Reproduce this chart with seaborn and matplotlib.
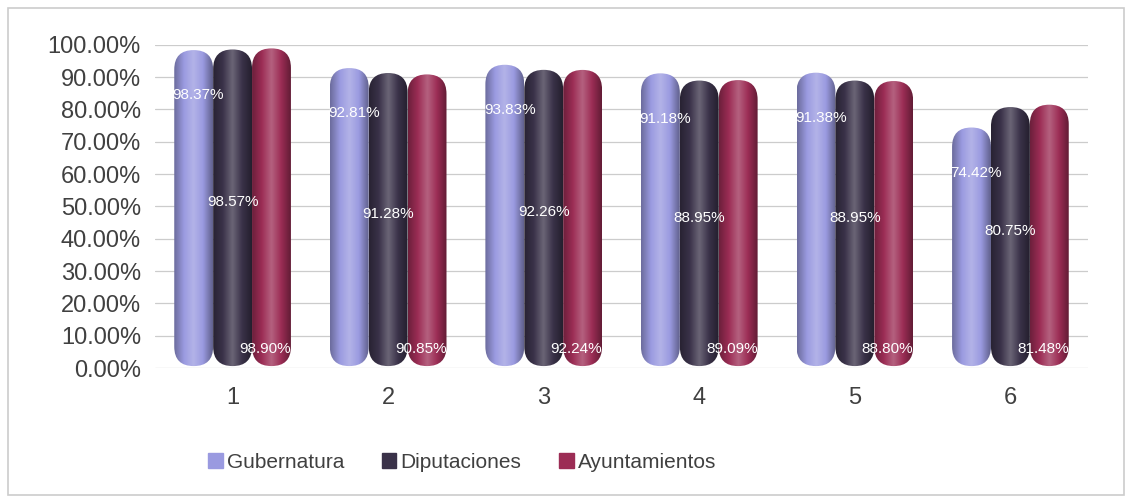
import numpy as np
import pandas as pd
import matplotlib
matplotlib.use('Agg')
import matplotlib.pyplot as plt
import seaborn as sns
from matplotlib.patches import Rectangle, FancyBboxPatch
from matplotlib.colors import LinearSegmentedColormap, to_rgb

sns.set_style('white')
plt.rcParams['font.family'] = ['Liberation Sans', 'DejaVu Sans']

# --- data ---
categories = ['1', '2', '3', '4', '5', '6']
series = ['Gubernatura', 'Diputaciones', 'Ayuntamientos']
gubernatura = [98.37, 92.81, 93.83, 91.18, 91.38, 74.42]
diputaciones = [98.57, 91.28, 92.26, 88.95, 88.95, 80.75]
ayuntamientos = [98.90, 90.85, 92.24, 89.09, 88.80, 81.48]

colors = ['#9a9ae0', '#3a3249', '#9c2d55']

df = pd.DataFrame({
    'cat': categories * 3,
    'serie': [s for s in series for _ in categories],
    'value': gubernatura + diputaciones + ayuntamientos,
})

fig = plt.figure(figsize=(11.3, 4.98), dpi=100)
ax = fig.add_axes([0.137, 0.261, 0.826, 0.649])

sns.barplot(data=df, x='cat', y='value', hue='serie', hue_order=series,
            palette=colors, width=0.75, saturation=1, linewidth=0,
            ax=ax, legend=False)

ax.set_ylim(0, 100)
ax.set_xlim(-0.5, 5.5)
ax.set_yticks(range(0, 101, 10))
ax.set_yticklabels([f'{t:.2f}%' for t in range(0, 101, 10)], fontsize=17, color='#404040')
ax.tick_params(axis='x', labelsize=17, labelcolor='#404040', pad=14, length=0)
ax.tick_params(axis='y', length=0, pad=10)
ax.set_xlabel('')
ax.set_ylabel('')
ax.grid(axis='y', color='#cccccc', lw=0.9)
ax.set_axisbelow(True)
for s in ax.spines.values():
    s.set_visible(False)


def shade_cmap(c):
    r = np.array(to_rgb(c))
    dark = r * 0.7
    light = np.clip(r + (1 - r) * 0.25, 0, 1)
    return LinearSegmentedColormap.from_list('cyl', [dark, r, light, r, dark * 0.9])


# turn the flat bars into shaded cylinders
fig.canvas.draw()
px_x = ax.transData.transform((1, 0))[0] - ax.transData.transform((0, 0))[0]
px_y = ax.transData.transform((0, 1))[1] - ax.transData.transform((0, 0))[1]
grad = np.linspace(0, 1, 64).reshape(1, -1)
for i, cont in enumerate(ax.containers):
    cmap = shade_cmap(colors[i])
    for bar in cont:
        x, w, h = bar.get_x(), bar.get_width(), bar.get_height()
        bar.set_visible(False)
        r = w / 2
        aspect = 1.0 * px_x / px_y
        cyl = FancyBboxPatch((x, 0.6), w, h - 0.6, boxstyle=f'round,pad=0,rounding_size={r}',
                             mutation_aspect=aspect, facecolor='none', edgecolor='none')
        ax.add_patch(cyl)
        im = ax.imshow(grad, cmap=cmap, extent=(x, x + w, 0, h), aspect='auto',
                       interpolation='bicubic', zorder=2)
        im.set_clip_path(cyl)
ax.set_xlim(-0.5, 5.5)
ax.set_ylim(0, 100)

# data labels: near the top, centre, near the base
for i, vals in enumerate([gubernatura, diputaciones, ayuntamientos]):
    for bar, v in zip(ax.containers[i], vals):
        if i == 0:
            ax.text(bar.get_x() - 0.01, v - 14, f'{v:.2f}%', ha='left', va='center',
                    color='white', fontsize=11, zorder=5)
        elif i == 1:
            ax.text(bar.get_x() + bar.get_width() / 2, v / 2 + 2, f'{v:.2f}%', ha='center',
                    va='center', color='white', fontsize=11, zorder=5)
        else:
            ax.text(bar.get_x() + bar.get_width(), 6, f'{v:.2f}%', ha='right', va='center',
                    color='white', fontsize=11, zorder=5)

# legend
handles = [Rectangle((0, 0), 1, 1, color=c) for c in colors]
fig.legend(handles, series, loc='center', bbox_to_anchor=(0.409, 0.072),
           ncol=3, frameon=False, fontsize=15, handlelength=0.7,
           handleheight=0.7, handletextpad=0.2, columnspacing=1.8,
           labelcolor='#404040')

# light border around chart area
fig.patches.append(Rectangle((0.007, 0.006), 0.988, 0.978, transform=fig.transFigure,
                             fill=False, edgecolor='#cccccc', lw=1.2))

fig.savefig('out.png', dpi=100)
